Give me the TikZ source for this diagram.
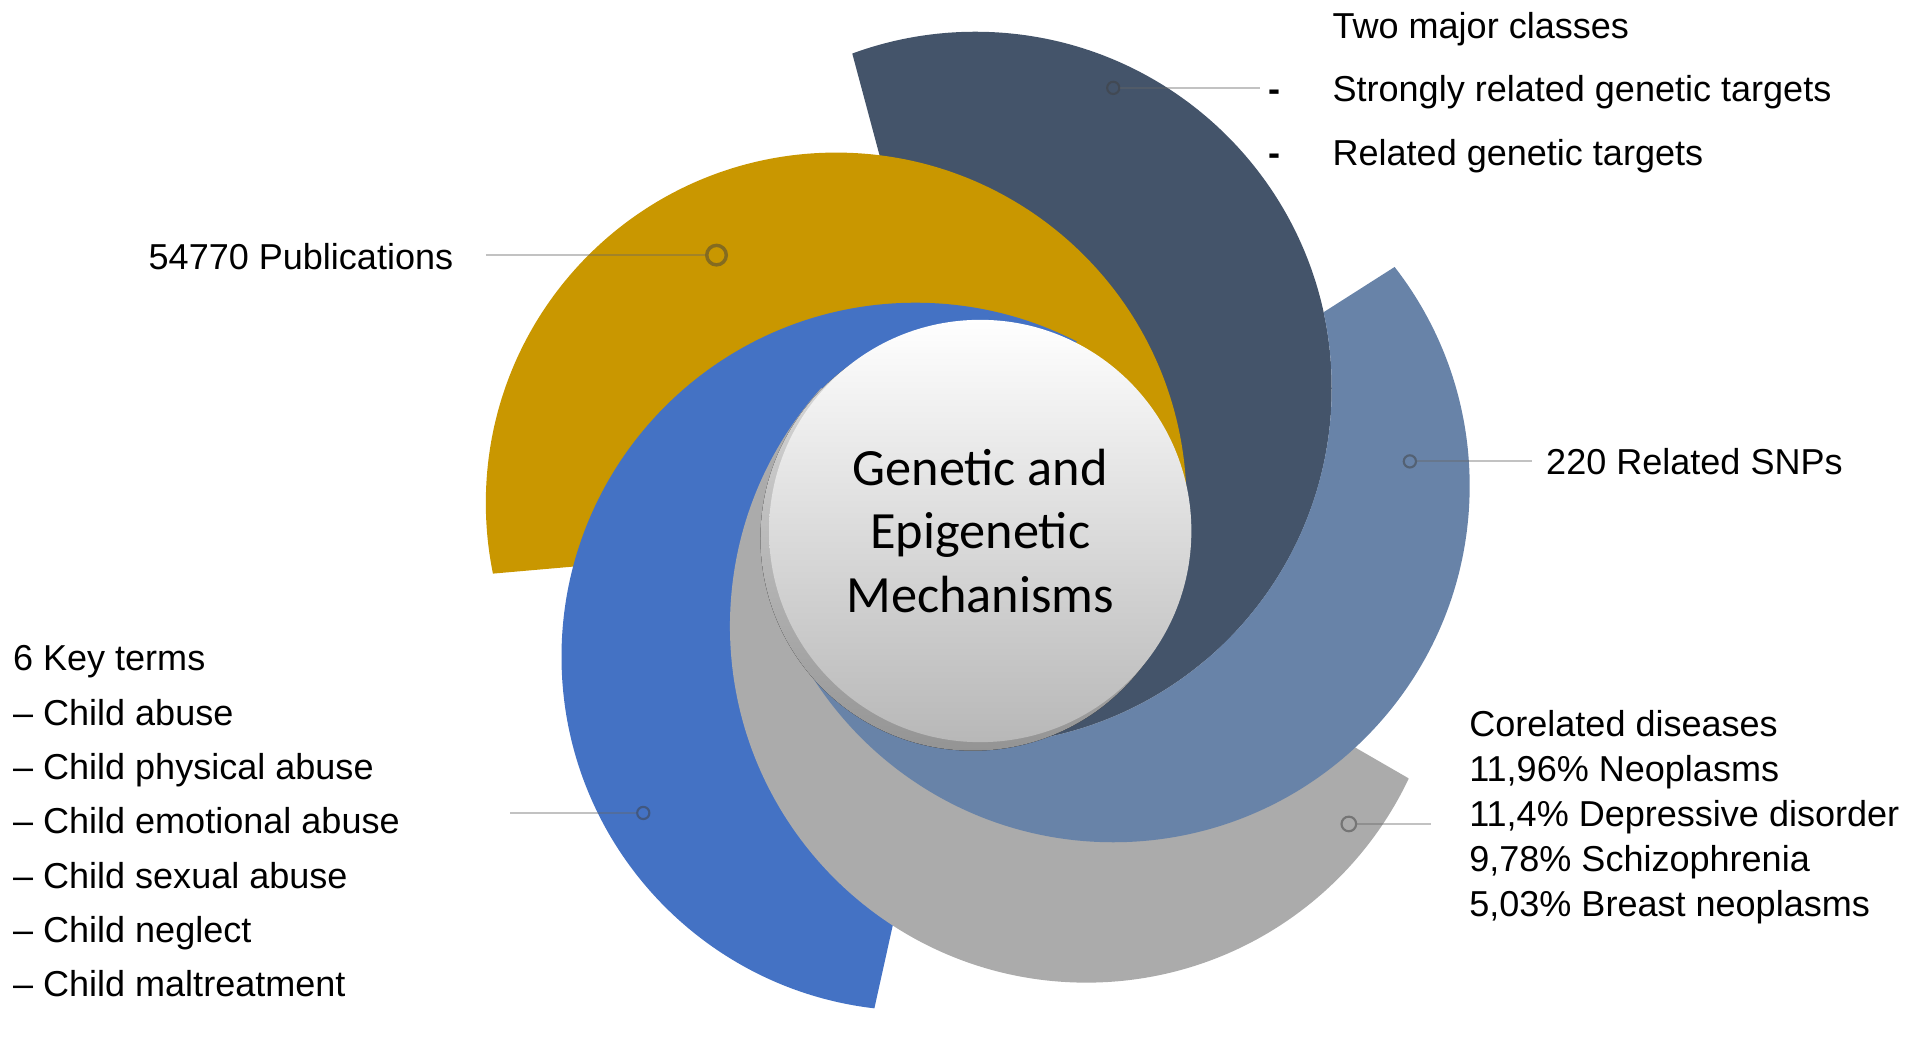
\documentclass[tikz,border=0pt]{standalone}
\usepackage{fontspec}
\setmainfont{Liberation Sans}
\newfontfamily\hubfont{Carlito}
\definecolor{navyband}{HTML}{44546A}
\definecolor{steelband}{HTML}{6883A8}
\definecolor{grayband}{HTML}{ABABAB}
\definecolor{blueband}{HTML}{4472C4}
\definecolor{goldband}{HTML}{C99700}
\tikzset{
  txt/.style={inner sep=0pt, font=\fontsize{8.4}{10}\selectfont},
  dot/.style={circle, draw=black!75, draw opacity=.5, line width=.5pt, minimum size=1mm, inner sep=0pt},
  leader/.style={draw=black!60, draw opacity=.4, line width=.5pt},
  hub/.style={circle, minimum size=34.6mm, inner sep=0pt, top color=white, bottom color=black!28,
    align=center, font=\hubfont\fontsize{12.2}{14.8}\selectfont},
  rim/.style={top color=black!12, bottom color=black!42},
}
\begin{document}
\begin{tikzpicture}[x=0.1mm, y=0.1mm]
    \useasboundingbox (0,0) rectangle (1568,-851);
    \coordinate (c) at (803,-435);

    % swirl bands: disk clipped to a wedge from the taper angle to the cut angle
    \foreach \bc/\bx/\by/\br/\ta/\tb in {navyband/799/-318/292/-88/105, goldband/685/-412/287/-11/185,
        blueband/750/-538/290/63/257.5} {
        \begin{scope}
            \clip (c) -- ++(\ta:2000) arc[start angle=\ta, end angle=\tb, radius=2000] -- cycle;
            \fill[\bc] (\bx,\by) circle[radius=\br];
        \end{scope}
    }
    % these two go under the navy band
    \begin{scope}[even odd rule]
        \clip (0,0) rectangle (1568,-851)
            (c) -- (698.2,-43.9) arc[start angle=110.2, end angle=-88, radius=292] -- cycle;
        \foreach \bc/\bx/\by/\br/\ta/\tb in {grayband/890/-513/292/138/330, steelband/912/-398/292/-161/32.5} {
            \begin{scope}
                \clip (c) -- ++(\ta:2000) arc[start angle=\ta, end angle=\tb, radius=2000] -- cycle;
                \fill[\bc] (\bx,\by) circle[radius=\br];
            \end{scope}
        }
    \end{scope}

    \fill[rim] (797,-441) circle[radius=174];
    \node[hub] (hub) at (c) {Genetic and\\Epigenetic\\Mechanisms};

    % markers and leaders
    \node[dot, minimum size=1.6mm, line width=.8pt] (pubdot) at (587,-209) {};
    \node[dot] (navydot) at (912,-72) {};
    \node[dot] (steeldot) at (1155,-378) {};
    \node[dot, minimum size=1.2mm] (graydot) at (1105,-675) {};
    \node[dot] (bluedot) at (527,-666) {};
    \coordinate (pubend) at (398,-209);
    \coordinate (navyend) at (1032,-72);
    \coordinate (steelend) at (1255,-378);
    \coordinate (grayend) at (1172,-675);
    \coordinate (blueend) at (418,-666);
    \draw[leader] (pubend) -- (pubdot);
    \draw[leader] (navydot) -- (navyend);
    \draw[leader] (steeldot) -- (steelend);
    \draw[leader] (graydot) -- (grayend);
    \draw[leader] (blueend) -- (bluedot);

    % labels
    \node[txt, anchor=east] (pub) at (372,-210) {54770 Publications};
    \node[txt, anchor=base west] (snp) at (1266,-388.5) {220 Related SNPs};
    \foreach \t[count=\i] in {Two major classes, \llap{\textbf{-}\hspace{4.3mm}}Strongly related genetic targets,
        \llap{\textbf{-}\hspace{4.3mm}}Related genetic targets} {
        \node[txt, anchor=base west] (cls\i) at (1091,20.5-52*\i) {\t};
    }
    \foreach \t[count=\i] in {Corelated diseases, {11,96\% Neoplasms}, {11,4\% Depressive disorder},
        {9,78\% Schizophrenia}, {5,03\% Breast neoplasms}} {
        \node[txt, anchor=base west] (dis\i) at (1203,-566-37*\i) {\t};
    }
    \foreach \t[count=\i] in {6 Key terms, – Child abuse, – Child physical abuse, – Child emotional abuse,
        – Child sexual abuse, – Child neglect, – Child maltreatment} {
        \node[txt, anchor=base west] (key\i) at (10,-505-44.5*\i) {\t};
    }
\end{tikzpicture}
\end{document}
